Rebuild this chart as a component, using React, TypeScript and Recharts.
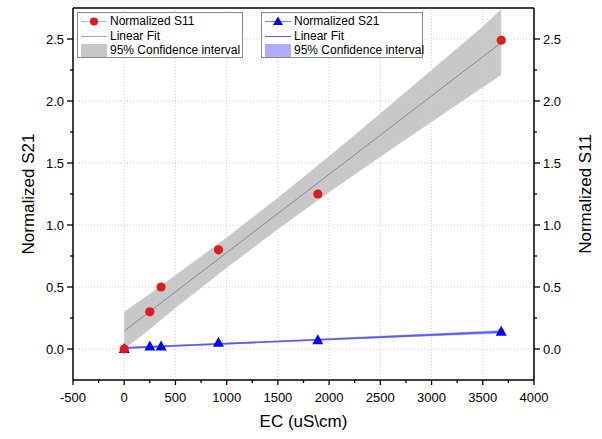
import React from 'react';
import {
  ComposedChart, Line, Area, Scatter, XAxis, YAxis, ReferenceLine,
} from 'recharts';

if (typeof document !== 'undefined') document.body.style.margin = '0';

// measured points
const ecValues = [0, 250, 360, 920, 1890, 3680];
const s11Values = [0, 0.3, 0.5, 0.8, 1.25, 2.49];
const s21Values = [0, 0.02, 0.02, 0.05, 0.07, 0.14];

// fit lines and 95% confidence bands
const bandX = [0, 250, 500, 1000, 1500, 2000, 2500, 3000, 3500, 3680];
const s11Fit = [0.145, 0.303, 0.461, 0.777, 1.093, 1.409, 1.725, 2.041, 2.357, 2.47];
const s11Low = [0.0, 0.16, 0.33, 0.655, 0.965, 1.265, 1.55, 1.83, 2.11, 2.21];
const s11High = [0.3, 0.445, 0.595, 0.9, 1.22, 1.555, 1.9, 2.25, 2.6, 2.74];
const s21Fit = [0.008, 0.017, 0.026, 0.043, 0.061, 0.079, 0.096, 0.114, 0.132, 0.138];
const s21Low = [-0.002, 0.008, 0.018, 0.036, 0.054, 0.071, 0.086, 0.102, 0.118, 0.123];
const s21High = [0.018, 0.026, 0.034, 0.05, 0.068, 0.087, 0.106, 0.126, 0.146, 0.153];

// axes
const xDomain = [-500, 4000];
const yDomain = [-0.25, 2.75];
const xTicks = [-500, -250, 0, 250, 500, 750, 1000, 1250, 1500, 1750, 2000, 2250, 2500, 2750, 3000, 3250, 3500, 3750, 4000];
const xMajor = [-500, 0, 500, 1000, 1500, 2000, 2500, 3000, 3500, 4000];
const yTicks = [0, 0.25, 0.5, 0.75, 1, 1.25, 1.5, 1.75, 2, 2.25, 2.5];
const yMajor = [0, 0.5, 1, 1.5, 2, 2.5];

const bandData = bandX.map((x, i) => ({
  x,
  s11Fit: s11Fit[i],
  s11Band: [s11Low[i], s11High[i]],
  s21Fit: s21Fit[i],
  s21Band: [s21Low[i], s21High[i]],
}));
const s11Points = ecValues.map((x, i) => ({ x, y: s11Values[i] }));
const s21Points = ecValues.map((x, i) => ({ x, y: s21Values[i] }));

const FONT = 'Liberation Sans, Arial, sans-serif';

const isMajor = (list: number[], v: number) => list.some((m) => Math.abs(m - v) < 1e-9);

const XTick = (props: any) => {
  const { x, y, payload } = props;
  const major = isMajor(xMajor, payload.value);
  return (
    <g>
      <line x1={x} x2={x} y1={y} y2={y + (major ? 5 : 3)} stroke="#000" strokeWidth={1.3} />
      {major && (
        <text x={x} y={y + 22} textAnchor="middle" fontSize={13} fontFamily={FONT} fill="#000">
          {payload.value}
        </text>
      )}
    </g>
  );
};

const makeYTick = (side: 'left' | 'right') => (props: any) => {
  const { x, y, payload } = props;
  const major = isMajor(yMajor, payload.value);
  const len = major ? 6 : 3;
  const dir = side === 'left' ? -1 : 1;
  return (
    <g>
      <line x1={x} x2={x + dir * len} y1={y} y2={y} stroke="#000" strokeWidth={1.3} />
      {major && (
        <text
          x={x + dir * 9}
          y={y + 4.5}
          textAnchor={side === 'left' ? 'end' : 'start'}
          fontSize={13}
          fontFamily={FONT}
          fill="#000"
        >
          {payload.value.toFixed(1)}
        </text>
      )}
    </g>
  );
};

const Circle = (props: any) => {
  const { cx, cy } = props;
  return <circle cx={cx} cy={cy} r={4.6} fill="#e01b1b" />;
};

const Triangle = (props: any) => {
  const { cx, cy } = props;
  return <polygon points={`${cx},${cy - 6} ${cx - 5.5},${cy + 4} ${cx + 5.5},${cy + 4}`} fill="#0000ff" />;
};

const legendRows = [
  ['Normalized S11', 'Linear Fit', '95% Confidence interval'],
  ['Normalized S21', 'Linear Fit', '95% Confidence interval'],
];

const LegendBox = ({ left, width, rows, color, lineColor, band, marker }: any) => (
  <div
    style={{
      position: 'absolute', left, top: 12, width, height: 46, boxSizing: 'border-box',
      border: '1px solid #888', background: '#fff', fontFamily: FONT, fontSize: 12,
    }}
  >
    {rows.map((r: string, i: number) => (
      <div key={i} style={{ position: 'absolute', left: 0, top: 1 + i * 14.5, height: 14.5, width: '100%' }}>
        <svg width={30} height={14.5} style={{ position: 'absolute', left: 2, top: 0 }}>
          {i === 0 && <line x1={1} x2={27} y1={7.5} y2={7.5} stroke={lineColor} strokeWidth={0.8} />}
          {i === 0 && marker === 'circle' && <circle cx={14} cy={7.5} r={4} fill={color} />}
          {i === 0 && marker === 'tri' && <polygon points="14,2.5 9,11 19,11" fill={color} />}
          {i === 1 && <line x1={1} x2={27} y1={7.5} y2={7.5} stroke={lineColor} strokeWidth={1} />}
          {i === 2 && <rect x={1} y={1} width={26} height={13} fill={band} />}
        </svg>
        <span style={{ position: 'absolute', left: 32, top: 0, lineHeight: '14.5px', whiteSpace: 'nowrap' }}>{r}</span>
      </div>
    ))}
  </div>
);

const App = () => (
  <div style={{ position: 'relative', width: 602, height: 439, background: '#fff' }}>
    <ComposedChart width={602} height={439} data={bandData} margin={{ top: 8, right: 0, left: 0, bottom: 0 }}>
      <XAxis
        dataKey="x"
        type="number"
        domain={xDomain}
        ticks={xTicks}
        interval={0}
        allowDataOverflow
        height={59}
        tickSize={0}
        tickMargin={0}
        tickLine={false}
        tick={<XTick />}
        axisLine={{ stroke: '#000', strokeWidth: 1.5 }}
        label={{ value: 'EC (uS\\cm)', position: 'insideBottom', offset: 12, fontSize: 17, fontFamily: FONT, fill: '#000' }}
      />
      <YAxis
        yAxisId="left"
        type="number"
        domain={yDomain}
        ticks={yTicks}
        interval={0}
        allowDataOverflow
        width={73}
        tickSize={0}
        tickMargin={0}
        tickLine={false}
        tick={makeYTick('left')}
        axisLine={{ stroke: '#000', strokeWidth: 1.5 }}
        label={({ viewBox }: any) => (
          <text
            x={viewBox.x + 34}
            y={viewBox.y + viewBox.height / 2}
            transform={`rotate(-90 ${viewBox.x + 34} ${viewBox.y + viewBox.height / 2})`}
            textAnchor="middle"
            fontSize={17}
            fontFamily={FONT}
            fill="#000"
          >
            Normalized S21
          </text>
        )}
      />
      <YAxis
        yAxisId="right"
        orientation="right"
        type="number"
        domain={yDomain}
        ticks={yTicks}
        interval={0}
        allowDataOverflow
        width={68}
        tickSize={0}
        tickMargin={0}
        tickLine={false}
        tick={makeYTick('right')}
        axisLine={{ stroke: '#000', strokeWidth: 1.5 }}
        label={({ viewBox }: any) => (
          <text
            x={viewBox.x + 57}
            y={viewBox.y + viewBox.height / 2}
            transform={`rotate(-90 ${viewBox.x + 57} ${viewBox.y + viewBox.height / 2})`}
            textAnchor="middle"
            fontSize={17}
            fontFamily={FONT}
            fill="#000"
          >
            Normalized S11
          </text>
        )}
      />
      {xMajor.slice(1, -1).map((v) => (
        <ReferenceLine key={`gx${v}`} x={v} yAxisId="left" stroke="#cfcfcf" strokeDasharray="1 2" />
      ))}
      {yMajor.map((v) => (
        <ReferenceLine key={`gy${v}`} y={v} yAxisId="left" stroke="#cfcfcf" strokeDasharray="1 2" />
      ))}
      <ReferenceLine y={2.75} yAxisId="left" stroke="#000" strokeWidth={1.5} />
      <Area yAxisId="right" dataKey="s11Band" stroke="none" fill="#c8c8c8" fillOpacity={1} isAnimationActive={false} />
      <Line yAxisId="right" dataKey="s11Fit" stroke="#777" strokeWidth={0.8} dot={false} isAnimationActive={false} />
      <Area yAxisId="left" dataKey="s21Band" stroke="none" fill="#aeaeff" fillOpacity={1} isAnimationActive={false} />
      <Line yAxisId="left" dataKey="s21Fit" stroke="#5a5aff" strokeWidth={1.6} dot={false} isAnimationActive={false} />
      <Scatter yAxisId="left" data={s21Points} dataKey="y" shape={<Triangle />} isAnimationActive={false} />
      <Scatter yAxisId="right" data={s11Points} dataKey="y" shape={<Circle />} isAnimationActive={false} />
    </ComposedChart>
    <LegendBox left={77} width={166} rows={legendRows[0]} color="#e01b1b" lineColor="#aaa" band="#c8c8c8" marker="circle" />
    <LegendBox left={261} width={162} rows={legendRows[1]} color="#0000ff" lineColor="#5a5aff" band="#aeaeff" marker="tri" />
  </div>
);

export default App;
